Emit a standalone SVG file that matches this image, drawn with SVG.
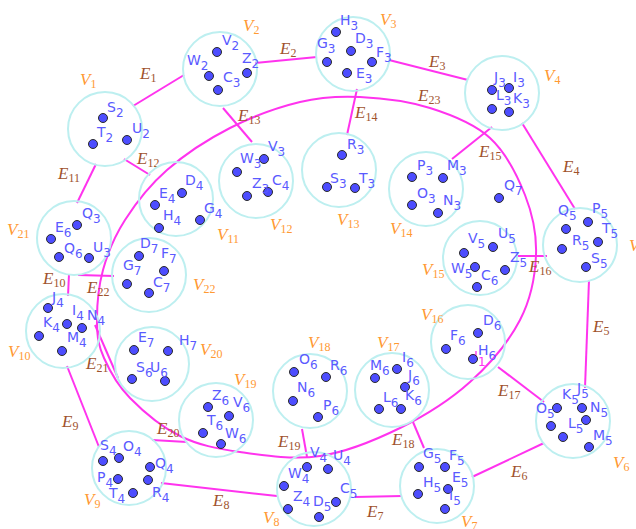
<svg xmlns="http://www.w3.org/2000/svg" width="636" height="529" viewBox="0 0 636 529">
<style>
.c{fill:none;stroke:#bdeff0;stroke-width:2}
.p{fill:#4d4dff;stroke:#2a2a2a;stroke-width:1}
.pl{font-family:"DejaVu Sans",sans-serif;font-size:14px;fill:#5a5aff}
.pl .s{font-size:12px}
.vl{font-family:"Liberation Serif",serif;font-style:italic;font-size:17px;fill:#ff9933}
.el{font-family:"Liberation Serif",serif;font-style:italic;font-size:17px;fill:#a0522d}
.ss{font-style:normal;font-size:12px}
.e{stroke:#ff33ee;stroke-width:2;fill:none}
.dl{font-family:"DejaVu Sans",sans-serif;font-size:14px;fill:#ff33ee}
</style>
<rect width="636" height="529" fill="#ffffff"/>
<g id="connectors">
<line class="e" x1="133" y1="106" x2="184" y2="75"/>
<line class="e" x1="255" y1="63" x2="317" y2="57"/>
<line class="e" x1="389" y1="60" x2="468" y2="80"/>
<line class="e" x1="522" y1="123" x2="575" y2="209"/>
<line class="e" x1="589" y1="280" x2="585" y2="388"/>
<line class="e" x1="544" y1="443" x2="472" y2="477"/>
<line class="e" x1="355" y1="497" x2="402" y2="496"/>
<line class="e" x1="161" y1="483" x2="277" y2="496"/>
<line class="e" x1="67" y1="366" x2="99" y2="447"/>
<line class="e" x1="69" y1="274" x2="68" y2="296"/>
<line class="e" x1="96" y1="164" x2="77" y2="203"/>
<line class="e" x1="124" y1="159" x2="150" y2="175"/>
<line class="e" x1="223" y1="108" x2="252" y2="142"/>
<line class="e" x1="357" y1="89" x2="347" y2="135"/>
<line class="e" x1="492" y1="127" x2="452" y2="159"/>
<line class="e" x1="516" y1="256" x2="547" y2="256"/>
<line class="e" x1="498" y1="367" x2="544" y2="402"/>
<line class="e" x1="413" y1="422" x2="424" y2="448"/>
<line class="e" x1="302" y1="429" x2="307" y2="457"/>
<line class="e" x1="152" y1="440" x2="187" y2="442"/>
<line class="e" x1="95" y1="325" x2="118" y2="378"/>
<line class="e" x1="78" y1="275" x2="114" y2="276"/>
<path class="e" d="M97,323 C96.8,308.3 98.3,287.2 103,270 C107.7,252.8 114.3,236.7 125,220 C135.7,203.3 149.5,185.3 167,170 C184.5,154.7 207.8,139.3 230,128 C252.2,116.7 278.3,107.2 300,102 C321.7,96.8 338.3,96 360,97 C381.7,98 408.3,101.2 430,108 C451.7,114.8 474.2,123.5 490,138 C505.8,152.5 517.3,175.5 525,195 C532.7,214.5 536.8,234.2 536,255 C535.2,275.8 531,298.8 520,320 C509,341.2 490,364 470,382 C450,400 425,415.7 400,428 C375,440.3 346.7,452 320,456 C293.3,460 263.3,455.3 240,452 C216.7,448.7 198.3,445 180,436 C161.7,427 142.7,411 130,398 C117.3,385 109.5,370.5 104,358 C98.5,345.5 97.2,337.7 97,323 Z"/>
<text class="el" x="140" y="79">E<tspan class="ss" dy="3">1</tspan></text>
<text class="el" x="280" y="54">E<tspan class="ss" dy="3">2</tspan></text>
<text class="el" x="429" y="67">E<tspan class="ss" dy="3">3</tspan></text>
<text class="el" x="563" y="172">E<tspan class="ss" dy="3">4</tspan></text>
<text class="el" x="593" y="332">E<tspan class="ss" dy="3">5</tspan></text>
<text class="el" x="511" y="477">E<tspan class="ss" dy="3">6</tspan></text>
<text class="el" x="367" y="517">E<tspan class="ss" dy="3">7</tspan></text>
<text class="el" x="213" y="506">E<tspan class="ss" dy="3">8</tspan></text>
<text class="el" x="62" y="427">E<tspan class="ss" dy="3">9</tspan></text>
<text class="el" x="43" y="284">E<tspan class="ss" dy="3">10</tspan></text>
<text class="el" x="58" y="179">E<tspan class="ss" dy="3">11</tspan></text>
<text class="el" x="137" y="164">E<tspan class="ss" dy="3">12</tspan></text>
<text class="el" x="238" y="121">E<tspan class="ss" dy="3">13</tspan></text>
<text class="el" x="355" y="118">E<tspan class="ss" dy="3">14</tspan></text>
<text class="el" x="479" y="157">E<tspan class="ss" dy="3">15</tspan></text>
<text class="el" x="529" y="272">E<tspan class="ss" dy="3">16</tspan></text>
<text class="el" x="498" y="396">E<tspan class="ss" dy="3">17</tspan></text>
<text class="el" x="392" y="445">E<tspan class="ss" dy="3">18</tspan></text>
<text class="el" x="278" y="447">E<tspan class="ss" dy="3">19</tspan></text>
<text class="el" x="157" y="434">E<tspan class="ss" dy="3">20</tspan></text>
<text class="el" x="86" y="369">E<tspan class="ss" dy="3">21</tspan></text>
<text class="el" x="87" y="293">E<tspan class="ss" dy="3">22</tspan></text>
<text class="el" x="418" y="101">E<tspan class="ss" dy="3">23</tspan></text>
<text class="dl" x="469" y="362">d<tspan class="s" dy="4" font-size="12">1</tspan></text>
</g>
<g id="V1">
<circle class="c" cx="105" cy="129" r="37"/>
<circle class="p" cx="103" cy="118" r="4.5"/><circle class="p" cx="93" cy="144" r="4.5"/><circle class="p" cx="127" cy="140" r="4.5"/>
<text class="pl" x="107" y="112">S<tspan class="s" dy="5">2</tspan></text>
<text class="pl" x="97" y="137">T<tspan class="s" dy="5">2</tspan></text>
<text class="pl" x="132" y="133">U<tspan class="s" dy="5">2</tspan></text>
<text class="vl" x="80" y="85">V<tspan class="ss" dy="3">1</tspan></text>
</g>
<g id="V2">
<circle class="c" cx="220" cy="69" r="37"/>
<circle class="p" cx="217" cy="52" r="4.5"/><circle class="p" cx="209" cy="76" r="4.5"/><circle class="p" cx="247" cy="73" r="4.5"/><circle class="p" cx="218" cy="90" r="4.5"/>
<text class="pl" x="222" y="45">V<tspan class="s" dy="5">2</tspan></text>
<text class="pl" x="187" y="65">W<tspan class="s" dy="5">2</tspan></text>
<text class="pl" x="242" y="63">Z<tspan class="s" dy="5">2</tspan></text>
<text class="pl" x="223" y="82">C<tspan class="s" dy="5">3</tspan></text>
<text class="vl" x="243" y="31">V<tspan class="ss" dy="3">2</tspan></text>
</g>
<g id="V3">
<circle class="c" cx="353" cy="54" r="37"/>
<circle class="p" cx="336" cy="32" r="4.5"/><circle class="p" cx="327" cy="62" r="4.5"/><circle class="p" cx="351" cy="51" r="4.5"/><circle class="p" cx="372" cy="62" r="4.5"/><circle class="p" cx="347" cy="73" r="4.5"/>
<text class="pl" x="340" y="25">H<tspan class="s" dy="5">3</tspan></text>
<text class="pl" x="317" y="48">G<tspan class="s" dy="5">3</tspan></text>
<text class="pl" x="355" y="43">D<tspan class="s" dy="5">3</tspan></text>
<text class="pl" x="376" y="57">F<tspan class="s" dy="5">3</tspan></text>
<text class="pl" x="356" y="78">E<tspan class="s" dy="5">3</tspan></text>
<text class="vl" x="380" y="25">V<tspan class="ss" dy="3">3</tspan></text>
</g>
<g id="V4">
<circle class="c" cx="502" cy="93" r="37"/>
<circle class="p" cx="492" cy="90" r="4.5"/><circle class="p" cx="509" cy="88" r="4.5"/><circle class="p" cx="492" cy="109" r="4.5"/><circle class="p" cx="509" cy="112" r="4.5"/>
<text class="pl" x="494" y="82">J<tspan class="s" dy="5">3</tspan></text>
<text class="pl" x="513" y="82">I<tspan class="s" dy="5">3</tspan></text>
<text class="pl" x="496" y="100">L<tspan class="s" dy="5">3</tspan></text>
<text class="pl" x="513" y="103">K<tspan class="s" dy="5">3</tspan></text>
<text class="vl" x="544" y="81">V<tspan class="ss" dy="3">4</tspan></text>
</g>
<g id="V5">
<circle class="c" cx="580" cy="245" r="37"/>
<circle class="p" cx="566" cy="229" r="4.5"/><circle class="p" cx="588" cy="222" r="4.5"/><circle class="p" cx="598" cy="242" r="4.5"/><circle class="p" cx="562" cy="249" r="4.5"/><circle class="p" cx="586" cy="267" r="4.5"/>
<text class="pl" x="558" y="215">Q<tspan class="s" dy="5">5</tspan></text>
<text class="pl" x="592" y="213">P<tspan class="s" dy="5">5</tspan></text>
<text class="pl" x="602" y="233">T<tspan class="s" dy="5">5</tspan></text>
<text class="pl" x="572" y="245">R<tspan class="s" dy="5">5</tspan></text>
<text class="pl" x="591" y="263">S<tspan class="s" dy="5">5</tspan></text>
<text class="vl" x="629" y="251">V<tspan class="ss" dy="3">5</tspan></text>
</g>
<g id="V6">
<circle class="c" cx="573" cy="421" r="37"/>
<circle class="p" cx="557" cy="408" r="4.5"/><circle class="p" cx="582" cy="408" r="4.5"/><circle class="p" cx="551" cy="426" r="4.5"/><circle class="p" cx="586" cy="420" r="4.5"/><circle class="p" cx="563" cy="437" r="4.5"/><circle class="p" cx="589" cy="447" r="4.5"/>
<text class="pl" x="562" y="399">K<tspan class="s" dy="5">5</tspan></text>
<text class="pl" x="577" y="393">J<tspan class="s" dy="5">5</tspan></text>
<text class="pl" x="536" y="413">O<tspan class="s" dy="5">5</tspan></text>
<text class="pl" x="590" y="412">N<tspan class="s" dy="5">5</tspan></text>
<text class="pl" x="568" y="428">L<tspan class="s" dy="5">5</tspan></text>
<text class="pl" x="593" y="440">M<tspan class="s" dy="5">5</tspan></text>
<text class="vl" x="613" y="468">V<tspan class="ss" dy="3">6</tspan></text>
</g>
<g id="V7">
<circle class="c" cx="437" cy="486" r="37"/>
<circle class="p" cx="419" cy="467" r="4.5"/><circle class="p" cx="445" cy="467" r="4.5"/><circle class="p" cx="418" cy="494" r="4.5"/><circle class="p" cx="448" cy="489" r="4.5"/><circle class="p" cx="445" cy="509" r="4.5"/>
<text class="pl" x="423" y="458">G<tspan class="s" dy="5">5</tspan></text>
<text class="pl" x="449" y="460">F<tspan class="s" dy="5">5</tspan></text>
<text class="pl" x="423" y="487">H<tspan class="s" dy="5">5</tspan></text>
<text class="pl" x="452" y="482">E<tspan class="s" dy="5">5</tspan></text>
<text class="pl" x="449" y="500">I<tspan class="s" dy="5">5</tspan></text>
<text class="vl" x="461" y="527">V<tspan class="ss" dy="3">7</tspan></text>
</g>
<g id="V8">
<circle class="c" cx="314" cy="489" r="37"/>
<circle class="p" cx="307" cy="467" r="4.5"/><circle class="p" cx="328" cy="469" r="4.5"/><circle class="p" cx="284" cy="486" r="4.5"/><circle class="p" cx="288" cy="509" r="4.5"/><circle class="p" cx="319" cy="517" r="4.5"/><circle class="p" cx="336" cy="502" r="4.5"/>
<text class="pl" x="310" y="457">V<tspan class="s" dy="5">4</tspan></text>
<text class="pl" x="333" y="460">U<tspan class="s" dy="5">4</tspan></text>
<text class="pl" x="288" y="478">W<tspan class="s" dy="5">4</tspan></text>
<text class="pl" x="293" y="501">Z<tspan class="s" dy="5">4</tspan></text>
<text class="pl" x="313" y="506">D<tspan class="s" dy="5">5</tspan></text>
<text class="pl" x="340" y="493">C<tspan class="s" dy="5">5</tspan></text>
<text class="vl" x="263" y="523">V<tspan class="ss" dy="3">8</tspan></text>
</g>
<g id="V9">
<circle class="c" cx="129" cy="468" r="37"/>
<circle class="p" cx="103" cy="461" r="4.5"/><circle class="p" cx="119" cy="458" r="4.5"/><circle class="p" cx="150" cy="467" r="4.5"/><circle class="p" cx="118" cy="479" r="4.5"/><circle class="p" cx="133" cy="493" r="4.5"/><circle class="p" cx="148" cy="480" r="4.5"/>
<text class="pl" x="100" y="450">S<tspan class="s" dy="5">4</tspan></text>
<text class="pl" x="123" y="451">O<tspan class="s" dy="5">4</tspan></text>
<text class="pl" x="155" y="468">Q<tspan class="s" dy="5">4</tspan></text>
<text class="pl" x="97" y="482">P<tspan class="s" dy="5">4</tspan></text>
<text class="pl" x="109" y="498">T<tspan class="s" dy="5">4</tspan></text>
<text class="pl" x="152" y="497">R<tspan class="s" dy="5">4</tspan></text>
<text class="vl" x="84" y="505">V<tspan class="ss" dy="3">9</tspan></text>
</g>
<g id="V10">
<circle class="c" cx="63" cy="331" r="37"/>
<circle class="p" cx="48" cy="308" r="4.5"/><circle class="p" cx="67" cy="324" r="4.5"/><circle class="p" cx="82" cy="328" r="4.5"/><circle class="p" cx="39" cy="336" r="4.5"/><circle class="p" cx="62" cy="351" r="4.5"/>
<text class="pl" x="52" y="302">J<tspan class="s" dy="5">4</tspan></text>
<text class="pl" x="72" y="315">I<tspan class="s" dy="5">4</tspan></text>
<text class="pl" x="87" y="320">N<tspan class="s" dy="5">4</tspan></text>
<text class="pl" x="43" y="327">K<tspan class="s" dy="5">4</tspan></text>
<text class="pl" x="67" y="342">M<tspan class="s" dy="5">4</tspan></text>
<text class="vl" x="8" y="357">V<tspan class="ss" dy="3">10</tspan></text>
</g>
<g id="V11">
<circle class="c" cx="176" cy="199" r="37"/>
<circle class="p" cx="182" cy="193" r="4.5"/><circle class="p" cx="155" cy="205" r="4.5"/><circle class="p" cx="159" cy="228" r="4.5"/><circle class="p" cx="200" cy="220" r="4.5"/>
<text class="pl" x="185" y="185">D<tspan class="s" dy="5">4</tspan></text>
<text class="pl" x="159" y="198">E<tspan class="s" dy="5">4</tspan></text>
<text class="pl" x="163" y="220">H<tspan class="s" dy="5">4</tspan></text>
<text class="pl" x="204" y="213">G<tspan class="s" dy="5">4</tspan></text>
<text class="vl" x="217" y="240">V<tspan class="ss" dy="3">11</tspan></text>
</g>
<g id="V12">
<circle class="c" cx="256" cy="181" r="37"/>
<circle class="p" cx="264" cy="159" r="4.5"/><circle class="p" cx="237" cy="172" r="4.5"/><circle class="p" cx="247" cy="196" r="4.5"/><circle class="p" cx="268" cy="192" r="4.5"/>
<text class="pl" x="268" y="151">V<tspan class="s" dy="5">3</tspan></text>
<text class="pl" x="240" y="163">W<tspan class="s" dy="5">3</tspan></text>
<text class="pl" x="252" y="188">Z<tspan class="s" dy="5">3</tspan></text>
<text class="pl" x="272" y="185">C<tspan class="s" dy="5">4</tspan></text>
<text class="vl" x="270" y="230">V<tspan class="ss" dy="3">12</tspan></text>
</g>
<g id="V13">
<circle class="c" cx="339" cy="170" r="37"/>
<circle class="p" cx="342" cy="155" r="4.5"/><circle class="p" cx="327" cy="187" r="4.5"/><circle class="p" cx="355" cy="188" r="4.5"/>
<text class="pl" x="347" y="149">R<tspan class="s" dy="5">3</tspan></text>
<text class="pl" x="330" y="183">S<tspan class="s" dy="5">3</tspan></text>
<text class="pl" x="359" y="183">T<tspan class="s" dy="5">3</tspan></text>
<text class="vl" x="337" y="225">V<tspan class="ss" dy="3">13</tspan></text>
</g>
<g id="V14">
<circle class="c" cx="426" cy="189" r="37"/>
<circle class="p" cx="412" cy="177" r="4.5"/><circle class="p" cx="443" cy="178" r="4.5"/><circle class="p" cx="412" cy="205" r="4.5"/><circle class="p" cx="438" cy="213" r="4.5"/>
<text class="pl" x="417" y="170">P<tspan class="s" dy="5">3</tspan></text>
<text class="pl" x="447" y="170">M<tspan class="s" dy="5">3</tspan></text>
<text class="pl" x="417" y="198">O<tspan class="s" dy="5">3</tspan></text>
<text class="pl" x="443" y="205">N<tspan class="s" dy="5">3</tspan></text>
<text class="vl" x="390" y="234">V<tspan class="ss" dy="3">14</tspan></text>
</g>
<g id="Q7">
<circle class="p" cx="499" cy="198" r="4.5"/>
<text class="pl" x="504" y="190">Q<tspan class="s" dy="5">7</tspan></text>
</g>
<g id="V15">
<circle class="c" cx="480" cy="258" r="37"/>
<circle class="p" cx="464" cy="253" r="4.5"/><circle class="p" cx="493" cy="247" r="4.5"/><circle class="p" cx="475" cy="267" r="4.5"/><circle class="p" cx="477" cy="287" r="4.5"/><circle class="p" cx="505" cy="270" r="4.5"/>
<text class="pl" x="468" y="243">V<tspan class="s" dy="5">5</tspan></text>
<text class="pl" x="498" y="238">U<tspan class="s" dy="5">5</tspan></text>
<text class="pl" x="451" y="273">W<tspan class="s" dy="5">5</tspan></text>
<text class="pl" x="481" y="280">C<tspan class="s" dy="5">6</tspan></text>
<text class="pl" x="510" y="262">Z<tspan class="s" dy="5">5</tspan></text>
<text class="vl" x="422" y="275">V<tspan class="ss" dy="3">15</tspan></text>
</g>
<g id="V16">
<circle class="c" cx="468" cy="342" r="37"/>
<circle class="p" cx="478" cy="333" r="4.5"/><circle class="p" cx="446" cy="349" r="4.5"/><circle class="p" cx="473" cy="359" r="4.5"/>
<text class="pl" x="483" y="325">D<tspan class="s" dy="5">6</tspan></text>
<text class="pl" x="450" y="340">F<tspan class="s" dy="5">6</tspan></text>
<text class="pl" x="478" y="355">H<tspan class="s" dy="5">6</tspan></text>
<text class="vl" x="421" y="320">V<tspan class="ss" dy="3">16</tspan></text>
</g>
<g id="V17">
<circle class="c" cx="392" cy="390" r="37"/>
<circle class="p" cx="375" cy="378" r="4.5"/><circle class="p" cx="397" cy="369" r="4.5"/><circle class="p" cx="405" cy="387" r="4.5"/><circle class="p" cx="379" cy="409" r="4.5"/><circle class="p" cx="401" cy="409" r="4.5"/>
<text class="pl" x="370" y="370">M<tspan class="s" dy="5">6</tspan></text>
<text class="pl" x="402" y="362">I<tspan class="s" dy="5">6</tspan></text>
<text class="pl" x="408" y="380">J<tspan class="s" dy="5">6</tspan></text>
<text class="pl" x="383" y="402">L<tspan class="s" dy="5">6</tspan></text>
<text class="pl" x="405" y="400">K<tspan class="s" dy="5">6</tspan></text>
<text class="vl" x="377" y="348">V<tspan class="ss" dy="3">17</tspan></text>
</g>
<g id="V18">
<circle class="c" cx="310" cy="391" r="37"/>
<circle class="p" cx="294" cy="372" r="4.5"/><circle class="p" cx="326" cy="377" r="4.5"/><circle class="p" cx="293" cy="401" r="4.5"/><circle class="p" cx="318" cy="417" r="4.5"/>
<text class="pl" x="299" y="364">O<tspan class="s" dy="5">6</tspan></text>
<text class="pl" x="330" y="370">R<tspan class="s" dy="5">6</tspan></text>
<text class="pl" x="297" y="392">N<tspan class="s" dy="5">6</tspan></text>
<text class="pl" x="323" y="410">P<tspan class="s" dy="5">6</tspan></text>
<text class="vl" x="308" y="348">V<tspan class="ss" dy="3">18</tspan></text>
</g>
<g id="V19">
<circle class="c" cx="216" cy="420" r="37"/>
<circle class="p" cx="208" cy="407" r="4.5"/><circle class="p" cx="229" cy="416" r="4.5"/><circle class="p" cx="203" cy="433" r="4.5"/><circle class="p" cx="221" cy="444" r="4.5"/>
<text class="pl" x="212" y="400">Z<tspan class="s" dy="5">6</tspan></text>
<text class="pl" x="233" y="407">V<tspan class="s" dy="5">6</tspan></text>
<text class="pl" x="207" y="425">T<tspan class="s" dy="5">6</tspan></text>
<text class="pl" x="225" y="438">W<tspan class="s" dy="5">6</tspan></text>
<text class="vl" x="234" y="385">V<tspan class="ss" dy="3">19</tspan></text>
</g>
<g id="V20">
<circle class="c" cx="152" cy="364" r="37"/>
<circle class="p" cx="134" cy="350" r="4.5"/><circle class="p" cx="168" cy="351" r="4.5"/><circle class="p" cx="132" cy="379" r="4.5"/><circle class="p" cx="165" cy="381" r="4.5"/>
<text class="pl" x="138" y="342">E<tspan class="s" dy="5">7</tspan></text>
<text class="pl" x="179" y="345">H<tspan class="s" dy="5">7</tspan></text>
<text class="pl" x="136" y="372">S<tspan class="s" dy="5">6</tspan></text>
<text class="pl" x="150" y="372">U<tspan class="s" dy="5">6</tspan></text>
<text class="vl" x="200" y="355">V<tspan class="ss" dy="3">20</tspan></text>
</g>
<g id="V21">
<circle class="c" cx="74" cy="238" r="37"/>
<circle class="p" cx="77" cy="225" r="4.5"/><circle class="p" cx="51" cy="239" r="4.5"/><circle class="p" cx="59" cy="257" r="4.5"/><circle class="p" cx="89" cy="258" r="4.5"/>
<text class="pl" x="82" y="218">Q<tspan class="s" dy="5">3</tspan></text>
<text class="pl" x="55" y="232">E<tspan class="s" dy="5">6</tspan></text>
<text class="pl" x="64" y="253">Q<tspan class="s" dy="5">6</tspan></text>
<text class="pl" x="93" y="252">U<tspan class="s" dy="5">3</tspan></text>
<text class="vl" x="7" y="235">V<tspan class="ss" dy="3">21</tspan></text>
</g>
<g id="V22">
<circle class="c" cx="149" cy="275" r="37"/>
<circle class="p" cx="139" cy="256" r="4.5"/><circle class="p" cx="164" cy="271" r="4.5"/><circle class="p" cx="127" cy="284" r="4.5"/><circle class="p" cx="149" cy="293" r="4.5"/>
<text class="pl" x="140" y="248">D<tspan class="s" dy="5">7</tspan></text>
<text class="pl" x="161" y="258">F<tspan class="s" dy="5">7</tspan></text>
<text class="pl" x="123" y="270">G<tspan class="s" dy="5">7</tspan></text>
<text class="pl" x="153" y="287">C<tspan class="s" dy="5">7</tspan></text>
<text class="vl" x="193" y="290">V<tspan class="ss" dy="3">22</tspan></text>
</g>
</svg>
